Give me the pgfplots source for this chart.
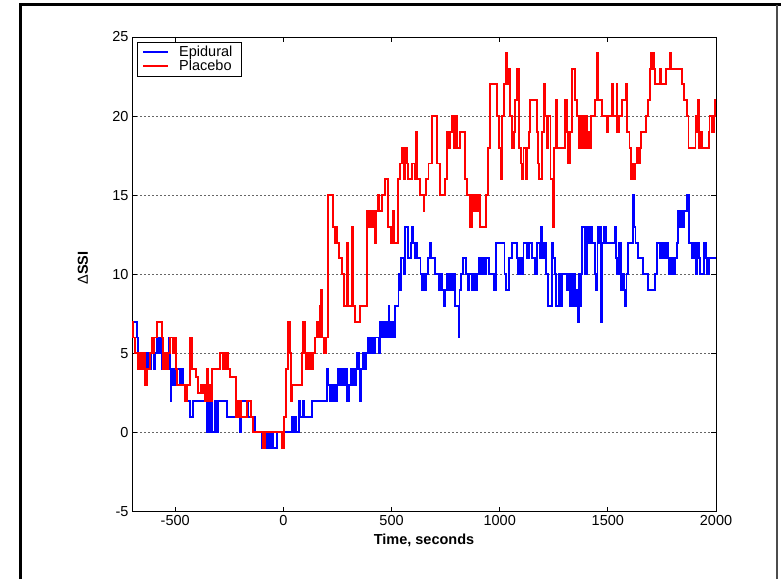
\documentclass[border=0pt]{standalone}
\usepackage{pgfplots}
\pgfplotsset{compat=1.18}
\usepackage{pgfplotstable}
\usepackage{fontspec}
\setmainfont{Liberation Sans}

% Delta SSI traces, one step value from each time to the next
\pgfplotstableread{
t v
-700 7
-678 6
-672 5
-664 4
-658 5
-650 4
-644 5
-636 4
-628 5
-618 4
-610 5
-600 4
-592 5
-584 6
-576 5
-568 6
-560 4
-548 5
-538 4
-528 6
-522 2
-519 4
-514 3
-506 4
-498 3
-490 4
-480 3
-470 4
-462 3
-455 2
-431 1
-416 2
-354 0
-348 2
-342 0
-334 2
-328 0
-318 2
-308 0
-300 2
-280 2
-262 1
-208 2
-203 0
-198 2
-178 2
-162 1
-132 0
-101 -1
-92 0
-86 -1
-74 0
-68 -1
-56 0
-50 -1
-31 0
38 1
44 0
55 1
60 0
72 2
76 1
82 1
90 2
96 1
131 2
150 2
200 4
208 3
214 2
220 3
228 2
234 3
242 2
250 4
256 3
264 4
270 3
277 4
282 3
290 4
296 2
302 3
310 4
318 3
326 4
331 3
336 4
342 5
348 4
354 2
360 4
368 5
376 4
384 5
392 6
400 5
408 6
416 5
424 6
440 5
447 7
452 6
458 7
464 6
470 7
476 6
482 7
486 8
490 6
496 7
502 6
508 7
512 6
517 8
532 10
538 9
545 11
556 10
563 13
578 11
590 12
594 13
598 12
606 11
614 12
620 11
634 10
640 9
646 10
652 9
660 10
668 11
676 12
682 11
690 11
700 10
718 9
728 10
735 9
740 8
746 9
754 10
762 9
770 10
778 9
786 10
794 8
810 6
814 9
822 10
830 11
840 11
846 10
852 9
860 10
870 9
878 10
887 9
895 10
902 11
908 10
914 11
920 10
926 11
932 10
938 11
949 10
975 9
982 12
1022 10
1030 9
1040 9
1045 11
1055 12
1080 11
1085 10
1095 11
1102 10
1110 12
1125 11
1135 12
1150 11
1160 11
1165 10
1173 12
1185 11
1192 13
1196 11
1200 12
1204 11
1208 12
1212 10
1224 8
1240 12
1248 11
1254 10
1262 8
1276 10
1282 8
1290 10
1312 9
1320 10
1326 8
1332 10
1336 8
1342 10
1348 8
1354 9
1360 7
1366 10
1372 8
1378 10
1382 13
1395 10
1402 13
1410 12
1418 13
1425 12
1440 10
1446 9
1452 13
1458 12
1466 13
1470 7
1475 12
1482 13
1490 12
1532 13
1538 11
1544 10
1550 12
1560 9
1568 10
1574 9
1580 8
1586 10
1594 12
1616 15
1622 13
1628 12
1640 11
1662 10
1686 9
1716 10
1726 12
1740 11
1746 12
1752 11
1758 12
1764 11
1770 12
1776 11
1782 10
1788 11
1794 10
1800 11
1806 10
1812 11
1818 12
1824 14
1830 13
1836 14
1844 13
1850 14
1866 15
1874 12
1890 11
1896 12
1902 11
1908 10
1914 12
1920 11
1926 10
1940 10
1946 12
1952 11
1960 10
1966 11
2000 11
}\epidural

\pgfplotstableread{
t v
-700 7
-694 6
-685 5
-671 4
-664 5
-660 4
-650 5
-640 3
-632 4
-624 4
-615 5
-609 6
-603 5
-598 6
-586 7
-563 6
-558 4
-548 5
-540 4
-532 5
-524 6
-512 5
-505 6
-498 4
-493 3
-455 2
-447 3
-431 6
-424 4
-404 3.5
-394 2.5
-382 3
-376 2.5
-370 3
-364 2
-354 4
-348 2
-342 3
-336 2
-330 4
-311 4
-293 5
-280 4
-274 5
-268 4
-262 5
-258 4
-249 3.5
-219 1
-214 2
-208 1
-200 2
-196 1
-178 1
-168 2
-150 1
-140 0
-93 -1
-85 0
-8 -1
4 1
10 4
20 7
30 5
37 2
42 3
84 5
92 7
100 5
105 4
110 5
120 4
126 5
131 4
139 5
146 6
155 7
162 6
168 8
174 9
180 6
186 5
195 6
208 15
231 13
239 12
245 13
250 12
257 11
270 10
282 8
293 12
298 8
316 13
324 8
331 7
355 8
385 14
392 13
398 14
405 13
412 14
420 13
425 12
430 14
435 15
444 14
455 15
470 16
485 13
496 12
507 14
512 12
517 12
530 16
540 17
550 18
556 16
562 18
570 17
578 16
594 17
609 16
614 19
620 16
632 15
648 14
652 15
660 16
671 17
686 20
712 17
725 15
748 16
755 19
762 18
772 19
780 20
790 18
796 20
802 18
817 19
841 16
848 15
864 13
872 15
880 14
887 15
895 14
900 15
910 13
935 15
947 18
956 22
987 20
995 18
1005 16
1012 20
1020 22
1030 24
1035 22
1040 23
1048 20
1055 18
1065 19
1072 21
1080 23
1090 18
1097 17
1103 16
1110 18
1120 16
1125 18
1135 19
1142 21
1172 19
1178 17
1183 16
1195 19
1205 22
1210 20
1218 18
1225 20
1235 16
1245 13
1253 18
1258 21
1265 18
1303 21
1310 19
1317 17
1325 19
1334 23
1350 21
1358 20
1365 18
1370 20
1375 18
1380 20
1385 18
1390 20
1395 18
1400 20
1405 18
1410 19
1415 18
1420 20
1440 21
1450 24
1455 21
1475 20
1495 19
1500 20
1520 22
1525 20
1540 22
1543 19
1553 20
1565 21
1585 22
1590 19
1600 18
1606 16
1612 17
1618 16
1624 17
1635 18
1645 17
1650 18
1655 19
1675 20
1685 21
1695 23
1700 24
1705 23
1710 24
1715 23
1720 22
1732 22
1740 23
1745 22
1770 23
1785 24
1790 23
1843 22
1850 21
1865 20
1873 18
1905 20
1910 19
1916 21
1920 18
1925 19
1935 18
1966 19
1970 20
1980 19
1990 20
1997 21
2000 21
}\placebo

\begin{document}
\begin{tikzpicture}[x=1pt,y=1pt]
\useasboundingbox (0,0) rectangle (781,579);
% window frame
\draw[line width=3pt,black] (20,0) -- (20,574) -- (781,574);
\draw[line width=2pt,black!70] (777,0) -- (777,574);
\begin{axis}[
  at={(132pt,67.5pt)}, anchor=south west,
  scale only axis, width=584pt, height=474.5pt,
  xmin=-700, xmax=2000, ymin=-5, ymax=25,
  xtick={-500,0,500,1000,1500,2000},
  xticklabels={-500,0,500,1000,1500,2000},
  ytick={-5,0,5,10,15,20,25},
  yticklabels={-5,0,5,10,15,20,25},
  tick align=inside,
  major tick length=5pt,
  axis line style={line width=0.8pt},
  every tick/.style={black,line width=0.8pt},
  ymajorgrids,
  grid style={dash pattern=on 2pt off 2pt, line width=0.9pt, black!60},
  ticklabel style={font=\fontsize{14.5}{16}\selectfont},
  xlabel={\bfseries Time, seconds},
  ylabel={Δ\textbf{SSI}},
  label style={font=\fontsize{14.5}{16}\selectfont},
  xlabel style={at={(axis description cs:0.5,0)}, anchor=center, yshift=-28.5pt},
  ylabel style={at={(axis description cs:-0.0839,0.513)}, anchor=center},
  legend cell align=left,
  legend style={at={(0.0086,0.9895)}, anchor=north west, draw=black, line width=0.6pt,
    font=\fontsize{14.5}{16}\selectfont, inner xsep=5pt, inner ysep=3pt, row sep=0pt,
    nodes={inner xsep=4pt, inner ysep=1pt}},
  legend image code/.code={\draw[#1,line width=1.8pt] (0pt,0pt) -- (25pt,0pt);
    \path (31pt,0pt);},
]
\addplot[const plot, blue, line width=1.9pt] table[x=t,y=v] {\epidural};
\addlegendentry{Epidural\hspace{4pt}}
\addplot[const plot, red, line width=1.9pt] table[x=t,y=v] {\placebo};
\addlegendentry{Placebo\hspace{4pt}}
\end{axis}
\end{tikzpicture}
\end{document}
